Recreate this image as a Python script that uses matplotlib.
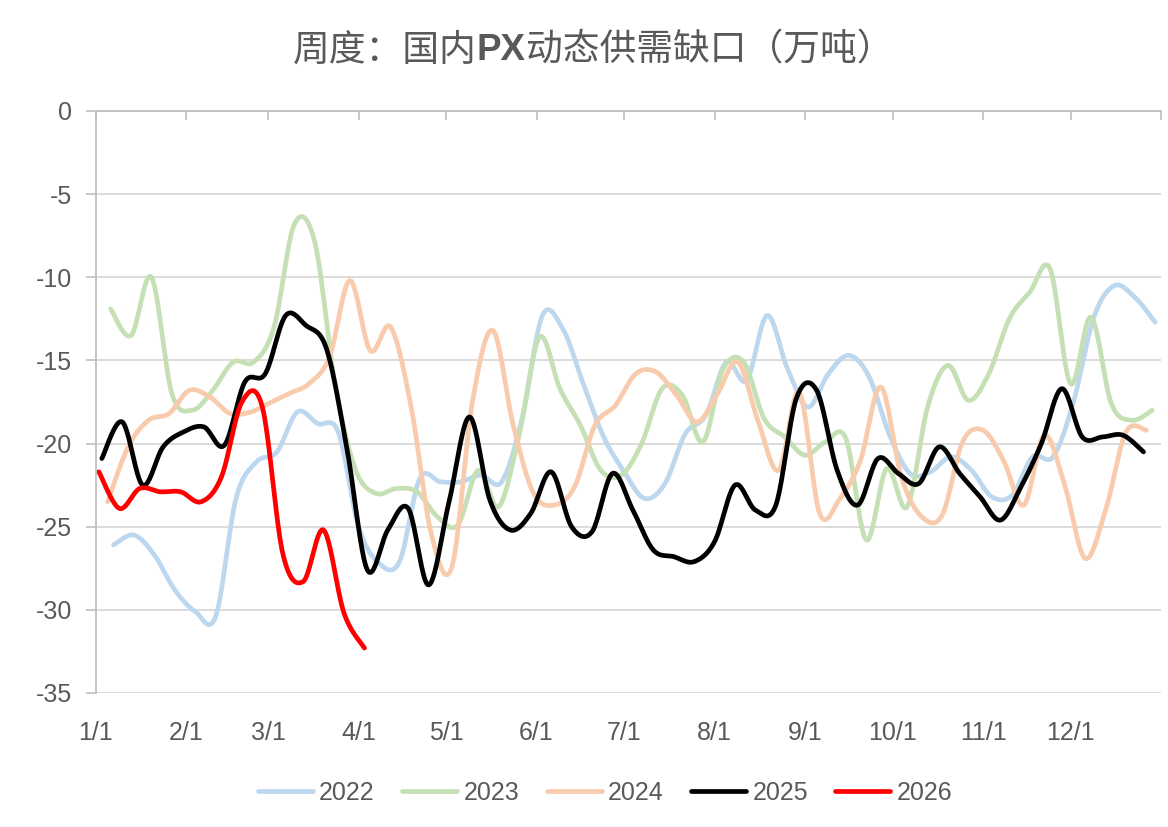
import numpy as np
import pandas as pd
import matplotlib
matplotlib.use("Agg")
import matplotlib.pyplot as plt

plt.rcParams["axes.unicode_minus"] = False

# weekly (Friday) values
start_2022 = "2022-01-07"
start_2023 = "2023-01-06"
start_2024 = "2024-01-05"
start_2025 = "2025-01-03"
start_2026 = "2026-01-02"

v2022 = [-26.1, -25.5, -26.7, -28.8, -30.1, -30.4, -23.3, -21.1, -20.5, -18.1,
         -18.8, -19.3, -25.0, -27.2, -27.1, -22.1, -22.3, -22.3, -21.9, -22.3,
         -18.5, -12.3, -13.1, -16.4, -19.6, -21.7, -23.3, -22.4, -19.4, -18.3,
         -15.1, -16.2, -12.3, -15.5, -17.8, -15.8, -14.7, -16.0, -19.5, -21.8,
         -21.7, -20.8, -21.6, -23.2, -23.1, -20.8, -20.8, -17.5, -12.4, -10.5,
         -11.2, -12.7]
v2023 = [-11.9, -13.5, -10.0, -17.0, -18.0, -16.8, -15.1, -15.1, -13.0, -6.8,
         -7.9, -16.5, -21.6, -23.0, -22.7, -22.9, -24.4, -24.9, -21.6, -23.8,
         -19.5, -13.6, -16.7, -18.9, -21.6, -21.9, -20.0, -16.7, -17.1, -19.9,
         -15.5, -15.1, -18.5, -19.6, -20.7, -19.9, -19.7, -25.8, -21.5, -23.8,
         -17.8, -15.3, -17.4, -15.8, -12.5, -10.9, -9.5, -16.4, -12.4, -17.6,
         -18.6, -18.0]
v2024 = [-23.5, -20.2, -18.6, -18.2, -16.8, -17.2, -18.2, -18.1, -17.6, -17.0,
         -16.4, -14.8, -10.2, -14.4, -13.0, -17.8, -25.5, -27.4, -17.5, -13.2,
         -18.9, -23.0, -23.7, -22.6, -18.9, -17.7, -15.8, -15.7, -17.1, -18.7,
         -17.0, -15.1, -18.7, -21.6, -16.9, -24.2, -23.3, -21.0, -16.6, -22.0,
         -24.4, -24.3, -19.9, -19.2, -21.0, -23.7, -19.5, -22.5, -26.9, -24.0,
         -19.3, -19.2]
v2025 = [-20.9, -18.7, -22.5, -20.2, -19.3, -19.0, -20.1, -16.3, -15.8, -12.3,
         -12.9, -14.3, -20.3, -27.6, -25.2, -23.9, -28.5, -23.5, -18.4, -23.4,
         -25.2, -24.2, -21.7, -25.0, -25.3, -21.8, -24.0, -26.4, -26.8, -27.1,
         -25.9, -22.5, -24.0, -23.7, -17.3, -16.8, -21.6, -23.7, -20.9, -21.8,
         -22.4, -20.2, -21.8, -23.2, -24.6, -22.6, -20.0, -16.7, -19.6, -19.6,
         -19.5, -20.5]
v2026 = [-21.7, -23.9, -22.7, -22.9, -22.9, -23.5, -22.0, -17.5, -17.8, -26.6,
         -28.3, -25.2, -30.2, -32.3]

series = [("2022", start_2022, v2022, "#BDD7EE"),
          ("2023", start_2023, v2023, "#C5E0B4"),
          ("2024", start_2024, v2024, "#F8CBAD"),
          ("2025", start_2025, v2025, "#000000"),
          ("2026", start_2026, v2026, "#FF0000")]

month_labels = ["1/1", "2/1", "3/1", "4/1", "5/1", "6/1", "7/1", "8/1",
                "9/1", "10/1", "11/1", "12/1"]
month_days = [0, 31, 59, 90, 120, 151, 181, 212, 243, 273, 304, 334]

gray_txt = "#595959"
grid_c = "#D9D9D9"
tick_font = ["Liberation Sans Narrow", "Liberation Sans", "DejaVu Sans"]
cjk_font = ["Noto Sans CJK SC", "DejaVu Sans"]

# px per unit, used so the smoothing is done in screen-like space (as Excel does)
SX, SY = 2.918, 16.63


def day_of_year(dates):
    d = dates.dayofyear.values - 1
    leap = dates.is_leap_year & (dates.month > 2)
    return d - leap.astype(int)


def smooth(x, y, n=24):
    pts = np.column_stack([np.asarray(x) * SX, np.asarray(y) * SY])
    P = np.vstack([pts[0], pts, pts[-1]])
    t = np.linspace(0, 1, n)[:, None]
    out = []
    for i in range(len(pts) - 1):
        p0, p1, p2, p3 = P[i], P[i + 1], P[i + 2], P[i + 3]
        c1 = p1 + (p2 - p0) / 6
        c2 = p2 - (p3 - p1) / 6
        seg = (1 - t) ** 3 * p1 + 3 * (1 - t) ** 2 * t * c1 + 3 * (1 - t) * t ** 2 * c2 + t ** 3 * p2
        out.append(seg if i == 0 else seg[1:])
    res = np.vstack(out)
    return res[:, 0] / SX, res[:, 1] / SY


fig = plt.figure(figsize=(11.68, 8.27), dpi=100)
ax = fig.add_axes([96 / 1168, 1 - 693 / 827, (1161 - 96) / 1168, (693 - 111) / 827])

for name, start, vals, col in series:
    dates = pd.date_range(start, periods=len(vals), freq="7D")
    x = day_of_year(dates)
    sx, sy = smooth(x, vals)
    ax.plot(sx, sy, color=col, lw=3.4, solid_capstyle="round", label=name)

ax.set_xlim(0, 365)
ax.set_ylim(-35, 0)

ax.set_yticks(np.arange(-35, 1, 5))
ax.yaxis.grid(True, color=grid_c, lw=1.3)
ax.set_axisbelow(True)

ax.set_xticks(month_days + [365])
ax.set_xticklabels(month_labels + [""])
ax.tick_params(axis="x", which="both", top=True, bottom=False, labeltop=False,
               labelbottom=True, direction="in", length=6.5, width=1.2,
               color="#BFBFBF", pad=20, labelsize=18, labelcolor=gray_txt)
ax.tick_params(axis="y", direction="out", length=7, width=1.2, color="#BFBFBF",
               pad=10, labelsize=18, labelcolor=gray_txt)
for lab in ax.get_xticklabels() + ax.get_yticklabels():
    lab.set_family(tick_font)

for s in ["right", "bottom"]:
    ax.spines[s].set_visible(False)
ax.spines["top"].set_color("#BFBFBF")
ax.spines["top"].set_linewidth(1.3)
ax.spines["left"].set_color("#BFBFBF")
ax.spines["left"].set_linewidth(1.3)

leg = fig.legend(loc="center", bbox_to_anchor=(605 / 1168, 1 - 793 / 827), ncol=5,
                 frameon=False, handlelength=2.2, handletextpad=0.25,
                 columnspacing=1.1, prop={"family": tick_font, "size": 18})
for t in leg.get_texts():
    t.set_color(gray_txt)

# title with bold "PX" in the middle
parts = [("周度：国内", "normal"), ("PX", "bold"), ("动态供需缺口（万吨）", "normal")]
texts = []
for s, w in parts:
    fam = ["Liberation Sans", "DejaVu Sans"] if s == "PX" else cjk_font
    texts.append(fig.text(0, 1 - 50 / 827, s, fontsize=26.5, fontweight=w,
                          family=fam, color=gray_txt, va="center", ha="left"))
r = fig.canvas.get_renderer()
widths = [t.get_window_extent(r).width for t in texts]
xpos = 593 - sum(widths) / 2
for t, w in zip(texts, widths):
    t.set_x(xpos / 1168)
    xpos += w

fig.savefig("out.png", dpi=100)
